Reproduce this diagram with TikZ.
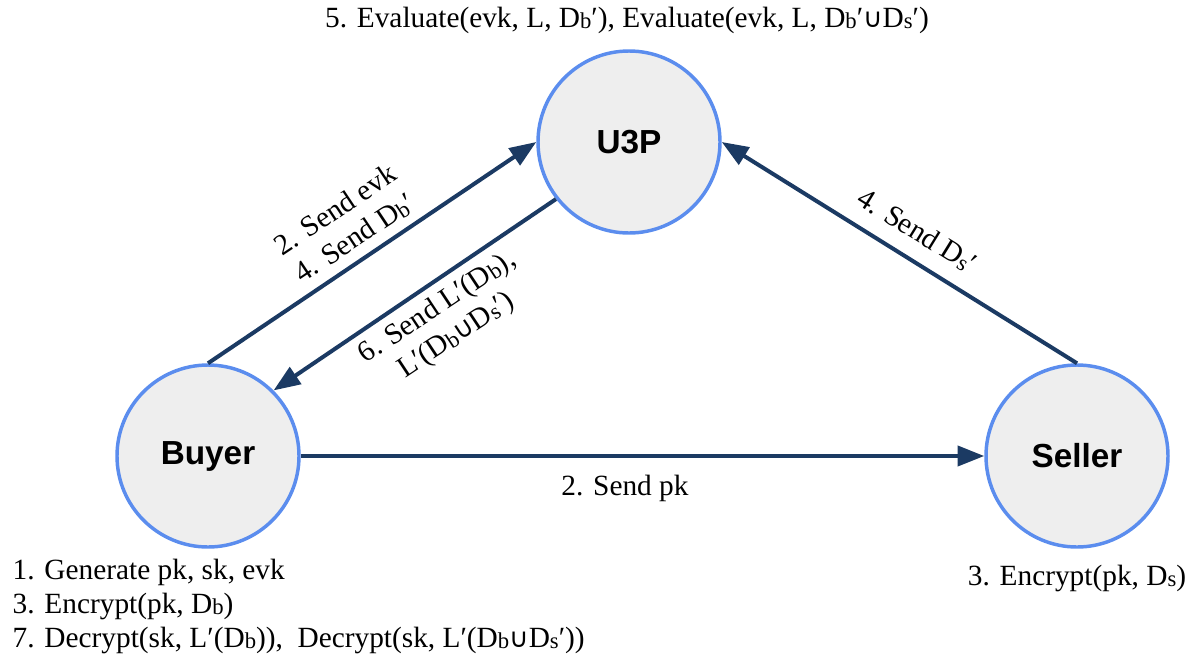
\documentclass[tikz,border=0pt]{standalone}
\usepackage{fontspec}
\setmainfont{Liberation Serif}
\setsansfont{Liberation Sans}
\newfontfamily\symfont{DejaVu Sans}
\usepackage{graphicx}
\usepackage{tikz}
\usetikzlibrary{arrows.meta}
\definecolor{navy}{HTML}{1B3A63}
\definecolor{ring}{HTML}{5B8DEE}
\definecolor{disc}{HTML}{EEEEEE}
\newcommand{\lo}[1]{\raisebox{-0.12ex}{\fontsize{17}{17}\selectfont #1}}
\newcommand{\Db}{D\lo{b}}
\newcommand{\Ds}{D\lo{s}}
\newcommand{\un}{{\symfont\fontsize{20}{20}\selectfont ∪}}

\begin{document}
\begin{tikzpicture}[x=0.75pt,y=-0.75pt]
\useasboundingbox (0,0) rectangle (1194,664);
\begin{scope}[every node/.style={circle,draw=ring,fill=disc,line width=2.6pt,
              minimum size=136.5pt,font=\sffamily\bfseries\fontsize{25}{30}\selectfont}]
    \node (U3P) at (629,142) {U3P};
    \node (buyer) at (208,456) {Buyer};
    \node (seller) at (1077,456) {Seller};
\end{scope}
\begin{scope}[every node/.style={align=center,font=\fontsize{22}{25.5}\selectfont}]
    \node (eval) at (627,20) {5. Evaluate(evk, L, \Db′), Evaluate(evk, L, \Db′\un\Ds′)};
    \node (sendevk) at (345,224) [rotate=33.7] {2. Send evk\\4. Send \Db′};
    \node (sendL) at (447,322) [rotate=33.5] {6. Send L′(\Db),\\L′(\Db\un\Ds′)};
    \node (sendDs) at (917,231) [rotate=-31.7] {4. Send \Ds′};
    \node (sendpk) at (625,488) {2. Send pk};
    \node (encs) at (1077,578) {3. Encrypt(pk, \Ds)};
    \node (buyersteps) [anchor=west,align=left] at (8,606) {1. Generate pk, sk, evk\\3. Encrypt(pk, \Db)\\7. Decrypt(sk, L′(\Db)),~ Decrypt(sk, L′(\Db\un\Ds′))};
\end{scope}
\begin{scope}[>={Triangle[length=20pt,width=15pt]},
              every edge/.style={draw=navy,line width=3pt}]
    \path [->] (buyer.north) edge (U3P.west);
    \path [->] (U3P.218) edge (buyer.45);
    \path [->] (seller.north) edge (U3P.east);
    \path [->] (buyer.east) edge (seller.west);
\end{scope}
\end{tikzpicture}
\end{document}
